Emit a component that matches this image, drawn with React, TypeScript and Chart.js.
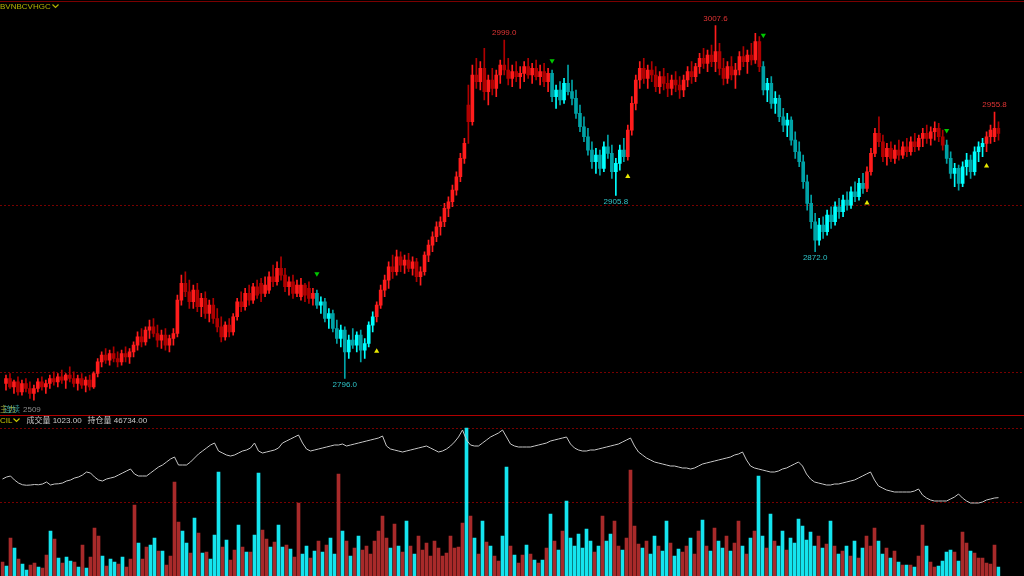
import React, { useEffect, useRef } from "react";
import { Chart, registerables } from "chart.js";
Chart.register(...registerables);

// ---------- DATA ----------
const open = [
  2793, 2796, 2791, 2794, 2788, 2793, 2790, 2787, 2790, 2794,
  2791, 2793, 2796, 2794, 2797, 2795, 2798, 2796, 2793, 2796,
  2792, 2795, 2791, 2799, 2806, 2810, 2807, 2811, 2808, 2806,
  2811, 2809, 2812, 2816, 2821, 2818, 2825, 2827, 2823, 2819,
  2822, 2816, 2820, 2823, 2843, 2853, 2848, 2842, 2849, 2839,
  2844, 2835, 2840, 2832, 2827, 2821, 2828, 2824, 2833, 2842,
  2839, 2847, 2843, 2851, 2853, 2847, 2849, 2857, 2854, 2862,
  2858, 2851, 2854, 2847, 2845, 2852, 2850, 2844, 2847, 2840,
  2842, 2832, 2835, 2826, 2820, 2825, 2812, 2819, 2816, 2822,
  2813, 2817, 2828, 2833, 2840, 2849, 2855, 2863, 2860, 2869,
  2864, 2867, 2862, 2866, 2857, 2860, 2870, 2876, 2881, 2887,
  2890, 2898, 2902, 2909, 2917, 2928, 2960, 2950, 2978, 2974,
  2982, 2968, 2975, 2970, 2978, 2984, 2981, 2976, 2980, 2977,
  2979, 2983, 2978, 2982, 2977, 2980, 2974, 2979, 2965, 2969,
  2963, 2973, 2968, 2964, 2955, 2947, 2941, 2933, 2926, 2930,
  2922, 2935, 2931, 2920, 2925, 2933, 2929, 2945, 2961, 2975,
  2982, 2976, 2981, 2978, 2971, 2977, 2973, 2970, 2975, 2972,
  2969, 2975, 2980, 2977, 2983, 2988, 2985, 2990, 2986, 2992,
  2982, 2976, 2983, 2978, 2981, 2989, 2986, 2990, 2987, 2998,
  2983, 2969, 2973, 2961, 2964, 2953, 2948, 2951, 2939, 2932,
  2926, 2914, 2901, 2890, 2879, 2888, 2884, 2894, 2890, 2899,
  2896, 2903, 2900, 2908, 2905, 2913, 2910, 2920, 2931, 2943,
  2938, 2929, 2934, 2928, 2933, 2930, 2935, 2932, 2938, 2935,
  2940, 2943, 2940, 2944, 2946, 2941, 2936, 2928, 2919, 2922,
  2913, 2923, 2927, 2920, 2932, 2935, 2937, 2941, 2941, 2946,
];
const high = [
  2798, 2799, 2795, 2797, 2795, 2796, 2794, 2792, 2796, 2797,
  2795, 2798, 2800, 2799, 2801, 2799, 2803, 2800, 2798, 2799,
  2797, 2798, 2800, 2808, 2812, 2814, 2813, 2815, 2812, 2813,
  2815, 2814, 2818, 2824, 2826, 2827, 2831, 2832, 2828, 2825,
  2826, 2822, 2826, 2846, 2858, 2860, 2855, 2852, 2853, 2847,
  2848, 2843, 2844, 2838, 2833, 2830, 2832, 2835, 2844, 2848,
  2850, 2852, 2853, 2855, 2856, 2857, 2860, 2864, 2866, 2869,
  2862, 2857, 2858, 2855, 2856, 2853, 2854, 2850, 2849, 2845,
  2844, 2838, 2837, 2831, 2828, 2827, 2822, 2826, 2824, 2825,
  2820, 2830, 2836, 2842, 2852, 2858, 2866, 2870, 2873, 2872,
  2870, 2871, 2869, 2868, 2863, 2872, 2879, 2884, 2890, 2893,
  2901, 2905, 2912, 2920, 2931, 2940, 2972, 2984, 2988, 2986,
  2994, 2978, 2982, 2981, 2987, 2999.0, 2988, 2984, 2986, 2983,
  2986, 2988, 2985, 2987, 2984, 2985, 2982, 2981, 2972, 2974,
  2976, 2984, 2975, 2969, 2960, 2953, 2946, 2938, 2934, 2933,
  2938, 2942, 2936, 2928, 2936, 2940, 2948, 2965, 2978, 2986,
  2988, 2984, 2986, 2983, 2980, 2982, 2979, 2978, 2980, 2977,
  2978, 2983, 2986, 2985, 2991, 2994, 2993, 2996, 3007.6, 2997,
  2988, 2986, 2989, 2985, 2992, 2995, 2993, 2997, 3003, 3001,
  2986, 2976, 2977, 2968, 2966, 2958, 2955, 2953, 2944, 2938,
  2930, 2918, 2906, 2895, 2892, 2893, 2897, 2899, 2902, 2904,
  2906, 2908, 2911, 2914, 2916, 2919, 2923, 2934, 2946, 2953,
  2942, 2937, 2938, 2936, 2939, 2938, 2940, 2941, 2943, 2942,
  2946, 2948, 2947, 2950, 2949, 2945, 2939, 2932, 2925, 2924,
  2926, 2931, 2930, 2935, 2938, 2940, 2944, 2948, 2955.8, 2950,
];
const low = [
  2789, 2790, 2787, 2786, 2786, 2788, 2784, 2783, 2788, 2789,
  2787, 2790, 2792, 2791, 2793, 2790, 2794, 2791, 2789, 2790,
  2788, 2789, 2790, 2797, 2803, 2805, 2804, 2806, 2803, 2804,
  2806, 2805, 2809, 2813, 2815, 2816, 2820, 2821, 2815, 2814,
  2813, 2812, 2816, 2821, 2840, 2845, 2838, 2838, 2836, 2833,
  2832, 2830, 2829, 2824, 2818, 2819, 2821, 2822, 2831, 2836,
  2837, 2840, 2841, 2844, 2842, 2845, 2847, 2851, 2852, 2855,
  2848, 2846, 2844, 2845, 2843, 2842, 2841, 2840, 2838, 2835,
  2830, 2826, 2824, 2817, 2815, 2796.0, 2808, 2814, 2812, 2806,
  2808, 2815, 2824, 2830, 2838, 2845, 2850, 2856, 2858, 2860,
  2859, 2860, 2858, 2854, 2852, 2858, 2866, 2872, 2878, 2882,
  2887, 2893, 2899, 2906, 2914, 2925, 2937, 2948, 2970, 2969,
  2963, 2960, 2966, 2965, 2973, 2978, 2972, 2971, 2974, 2970,
  2974, 2976, 2973, 2975, 2972, 2971, 2968, 2962, 2958, 2960,
  2961, 2966, 2960, 2952, 2944, 2938, 2930, 2922, 2919, 2918,
  2920, 2928, 2916, 2905.8, 2921, 2926, 2927, 2942, 2957, 2970,
  2973, 2970, 2974, 2968, 2967, 2969, 2965, 2966, 2968, 2964,
  2965, 2971, 2973, 2974, 2979, 2982, 2980, 2983, 2980, 2978,
  2972, 2973, 2975, 2970, 2978, 2983, 2979, 2984, 2985, 2980,
  2966, 2962, 2958, 2955, 2950, 2944, 2941, 2936, 2928, 2923,
  2910, 2897, 2886, 2872.0, 2876, 2880, 2882, 2886, 2888, 2892,
  2893, 2897, 2898, 2902, 2903, 2907, 2908, 2918, 2929, 2935,
  2926, 2924, 2926, 2925, 2927, 2928, 2929, 2930, 2932, 2933,
  2935, 2937, 2936, 2939, 2938, 2933, 2925, 2916, 2911, 2909,
  2911, 2918, 2916, 2918, 2926, 2929, 2932, 2937, 2938, 2939,
];
const close = [
  2796, 2791, 2794, 2788, 2793, 2790, 2787, 2790, 2794, 2791,
  2793, 2796, 2794, 2797, 2795, 2798, 2796, 2793, 2796, 2792,
  2795, 2791, 2799, 2806, 2810, 2807, 2811, 2808, 2806, 2811,
  2809, 2812, 2816, 2821, 2818, 2825, 2827, 2823, 2819, 2822,
  2816, 2820, 2823, 2843, 2853, 2848, 2842, 2849, 2839, 2844,
  2835, 2840, 2832, 2827, 2821, 2828, 2824, 2833, 2842, 2839,
  2847, 2843, 2851, 2846, 2847, 2852, 2857, 2854, 2862, 2858,
  2851, 2854, 2847, 2852, 2852, 2846, 2844, 2847, 2840, 2842,
  2832, 2835, 2826, 2820, 2825, 2812, 2819, 2816, 2822, 2813,
  2817, 2828, 2833, 2840, 2849, 2855, 2863, 2860, 2869, 2864,
  2867, 2862, 2866, 2857, 2860, 2870, 2876, 2881, 2887, 2890,
  2898, 2902, 2909, 2917, 2928, 2937, 2950, 2978, 2974, 2982,
  2968, 2975, 2970, 2978, 2984, 2981, 2976, 2980, 2977, 2979,
  2983, 2978, 2982, 2977, 2980, 2974, 2979, 2965, 2969, 2963,
  2973, 2968, 2964, 2955, 2947, 2941, 2933, 2926, 2930, 2922,
  2935, 2931, 2920, 2925, 2933, 2929, 2945, 2961, 2975, 2982,
  2976, 2981, 2978, 2971, 2977, 2973, 2970, 2975, 2972, 2969,
  2975, 2980, 2977, 2983, 2988, 2985, 2990, 2986, 2992, 2982,
  2976, 2983, 2978, 2981, 2989, 2986, 2990, 2987, 2998, 2983,
  2969, 2973, 2961, 2964, 2953, 2948, 2951, 2939, 2932, 2926,
  2914, 2901, 2890, 2879, 2888, 2884, 2894, 2890, 2899, 2896,
  2903, 2900, 2908, 2905, 2913, 2910, 2920, 2931, 2943, 2938,
  2929, 2934, 2928, 2933, 2930, 2935, 2932, 2938, 2935, 2940,
  2943, 2940, 2944, 2946, 2941, 2936, 2928, 2919, 2922, 2913,
  2923, 2927, 2920, 2932, 2935, 2937, 2941, 2945, 2946, 2943,
];
const volume = [
  1580, 1130, 4300, 3160, 1920, 1360, 680, 1240, 1470, 1020,
  900, 2370, 5090, 4180, 2030, 1470, 2150, 1700, 1580, 1020,
  3500, 900, 2150, 5420, 4520, 2260, 1130, 1920, 1580, 1360,
  2150, 1020, 1920, 8040, 3730, 1920, 3280, 3500, 4300, 2830,
  2830, 1240, 2260, 10650, 6120, 5100, 3740, 2600, 6570, 4870,
  2600, 2720, 1920, 4640, 11780, 3280, 4080, 1810, 2940, 5780,
  3280, 2720, 2720, 4640, 11670, 5210, 4190, 3280, 3850, 5780,
  3280, 3500, 3060, 2150, 8270, 2490, 3400, 2040, 2830, 3970,
  2720, 3510, 4300, 2490, 11560, 5100, 3970, 2270, 3170, 4530,
  2940, 3400, 2490, 3970, 5100, 6800, 4300, 3170, 5890, 3400,
  2720, 6230, 3400, 2490, 4530, 2940, 3740, 2270, 3970, 3170,
  2270, 2610, 4530, 3170, 3290, 6000, 16770, 6800, 4300, 2490,
  6230, 3850, 3400, 2270, 1700, 4530, 12350, 3400, 2380, 1470,
  2380, 3510, 2490, 1810, 1470, 1810, 3170, 7030, 3970, 2940,
  5100, 8500, 4300, 3400, 4760, 3170, 5330, 3970, 2720, 3400,
  6800, 3970, 4760, 6230, 3400, 2940, 4300, 12000, 5670, 3630,
  3170, 3970, 2490, 4530, 3400, 2830, 6230, 3740, 2270, 3060,
  2720, 3400, 4300, 2490, 5100, 6350, 3400, 2830, 5440, 3970,
  3170, 4530, 2830, 3740, 6230, 3400, 2490, 4300, 5100, 11330,
  4530, 3170, 7030, 3970, 3400, 5100, 2940, 4300, 3740, 6460,
  5670, 4080, 4990, 3400, 4530, 3170, 3630, 6230, 3400, 2490,
  2830, 3400, 2270, 3970, 2040, 3170, 4530, 3400, 5440, 3970,
  2490, 3170, 2040, 2830, 1590, 1250, 1250, 1250, 1020, 2270,
  5780, 3400, 1590, 1020, 1130, 1700, 2720, 2940, 2720, 1700,
  4990, 3740, 2830, 2610, 2040, 2040, 1470, 1360, 3510, 1023,
];
const openInterest = [
  47480, 47560, 47600, 47440, 47320, 47250, 47230, 47240, 47260, 47250,
  47280, 47360, 47240, 47280, 47290, 47320, 47400, 47440, 47520, 47560,
  47640, 47760, 47720, 47560, 47440, 47400, 47480, 47520, 47560, 47640,
  47720, 47800, 47880, 47680, 47600, 47600, 47600, 47720, 47840, 47960,
  48040, 48160, 48280, 48360, 48040, 48040, 48040, 48160, 48320, 48480,
  48600, 48720, 48840, 48920, 48600, 48520, 48440, 48400, 48440, 48520,
  48600, 48640, 48720, 48920, 48600, 48520, 48560, 48600, 48640, 48720,
  48920, 49000, 49080, 49160, 49240, 48920, 48680, 48600, 48640, 48680,
  48720, 48760, 48800, 48840, 48840, 48880, 48800, 48840, 48880, 48920,
  48960, 49000, 49040, 49080, 49120, 49200, 48800, 48680, 48640, 48600,
  48560, 48600, 48640, 48680, 48720, 48760, 48800, 48720, 48640, 48560,
  48600, 48680, 48800, 48960, 49160, 49440, 49040, 48840, 48800, 48800,
  48920, 49040, 49160, 49240, 49320, 49440, 49160, 48880, 48800, 48760,
  48760, 48760, 48760, 48800, 48840, 48880, 48920, 49000, 49040, 49080,
  49120, 49160, 48880, 48720, 48640, 48600, 48600, 48640, 48640, 48680,
  48720, 48760, 48800, 48840, 48880, 48960, 49040, 49120, 48800, 48560,
  48440, 48320, 48240, 48160, 48120, 48080, 48040, 48000, 48000, 47960,
  47920, 47920, 47880, 47920, 48000, 48080, 48120, 48160, 48200, 48240,
  48280, 48320, 48360, 48440, 48480, 48560, 48240, 48000, 47920, 47880,
  47840, 47800, 47760, 47760, 47800, 47880, 47920, 48000, 48080, 48160,
  48000, 47680, 47480, 47360, 47320, 47280, 47240, 47240, 47280, 47280,
  47320, 47360, 47400, 47440, 47520, 47600, 47680, 47760, 47440, 47200,
  47120, 47040, 47000, 46960, 46960, 46960, 46960, 46960, 47000, 47080,
  46840, 46720, 46640, 46600, 46600, 46600, 46600, 46680, 46760, 46880,
  46720, 46600, 46520, 46520, 46520, 46560, 46640, 46680, 46720, 46734,
];

// trading signals (bar index) and marker price
const sellSignalIdx = [78, 137, 190, 236];
const sellMarkPrice = [2858.8, 2986.5, 3001.8, 2944.7];
const buySignalIdx = [93, 156, 216, 246];
const buyMarkPrice = [2812.4, 2917.1, 2901.2, 2923.5];

// labelled swing highs / lows (bar index)
const peakIdx = [125, 178, 248];
const troughIdx = [85, 153, 203];

// dotted guide levels
const priceGuides = [2800, 2900];
const volumeGuides = [8400, 16800];

const PRICE_MIN = 2775.9;
const PRICE_MAX = 3020.6;
const VOL_MAX = 17000;
const OI_MIN = 43600;
const OI_MAX = 49600;

const symbolName = "BVNBCVHGC";
const indicatorName = "CIL";
const volText = "成交量 " + volume[volume.length - 1].toFixed(2);
const oiText = "持仓量 " + openInterest[openInterest.length - 1].toFixed(2);

// ---------- derived ----------
const labels = close.map((_, i) => String(i));
const trendUp: boolean[] = [];
{
  let up = true;
  for (let i = 0; i < close.length; i++) {
    if (sellSignalIdx.includes(i)) up = false;
    if (buySignalIdx.includes(i)) up = true;
    trendUp.push(up);
  }
}
const candleColors = close.map((c, i) => {
  const bull = c >= open[i];
  if (trendUp[i]) return bull ? "#ff1c1c" : "#b00000";
  return bull ? "#00ffff" : "#00a2a6";
});
const volColors = close.map((c, i) => (c >= open[i] ? "#a82a2a" : "#14e4ee"));

const sellMarks = labels.map((_, i) => {
  const k = sellSignalIdx.indexOf(i);
  return k >= 0 ? sellMarkPrice[k] : null;
});
const buyMarks = labels.map((_, i) => {
  const k = buySignalIdx.indexOf(i);
  return k >= 0 ? buyMarkPrice[k] : null;
});

const guidePlugin = (scaleId: string, values: number[]) => ({
  id: "guides_" + scaleId,
  beforeDatasetsDraw(chart: any) {
    const { ctx } = chart;
    const sc = chart.scales[scaleId];
    ctx.save();
    ctx.strokeStyle = "#780000";
    ctx.lineWidth = 1;
    ctx.setLineDash([2, 2]);
    values.forEach((v) => {
      const py = Math.round(sc.getPixelForValue(v)) + 0.5;
      ctx.beginPath();
      ctx.moveTo(0, py);
      ctx.lineTo(chart.width, py);
      ctx.stroke();
    });
    ctx.restore();
  },
});

const extremeLabelPlugin = {
  id: "extremeLabels",
  afterDatasetsDraw(chart: any) {
    const { ctx } = chart;
    const xs = chart.scales.x;
    const ys = chart.scales.y;
    ctx.save();
    ctx.font = '8px "Liberation Sans", Arial, sans-serif';
    ctx.textAlign = "center";
    ctx.textBaseline = "bottom";
    ctx.fillStyle = "#e03434";
    peakIdx.forEach((i) => {
      ctx.fillText(high[i].toFixed(1), xs.getPixelForValue(i), ys.getPixelForValue(high[i]) - 3);
    });
    ctx.textBaseline = "top";
    ctx.fillStyle = "#2ec4c8";
    troughIdx.forEach((i) => {
      ctx.fillText(low[i].toFixed(1), xs.getPixelForValue(i), ys.getPixelForValue(low[i]) + 2);
    });
    ctx.restore();
  },
};

const Chevron = ({ color }: { color: string }) => (
  <svg width="7" height="5" style={{ marginLeft: 1, verticalAlign: "middle" }}>
    <polyline points="0.5,0.5 3.5,3.5 6.5,0.5" fill="none" stroke={color} strokeWidth="1.2" />
  </svg>
);

export default function App() {
  const mainRef = useRef<HTMLCanvasElement>(null);
  const volRef = useRef<HTMLCanvasElement>(null);

  useEffect(() => {
    const main = new Chart(mainRef.current as HTMLCanvasElement, {
      type: "bar",
      data: {
        labels,
        datasets: [
          {
            type: "bar",
            data: close.map((_, i) => [low[i], high[i]]) as any,
            backgroundColor: candleColors,
            barThickness: 1,
            grouped: false,
            borderWidth: 0,
            order: 3,
          } as any,
          {
            type: "bar",
            data: close.map((c, i) => [open[i], c]) as any,
            backgroundColor: candleColors,
            barThickness: 3,
            minBarLength: 1,
            grouped: false,
            borderWidth: 0,
            order: 2,
          } as any,
          {
            type: "line",
            data: sellMarks as any,
            showLine: false,
            pointStyle: "triangle",
            rotation: 180,
            pointRadius: 3,
            pointBackgroundColor: "#00c800",
            pointBorderWidth: 0,
            order: 1,
          } as any,
          {
            type: "line",
            data: buyMarks as any,
            showLine: false,
            pointStyle: "triangle",
            pointRadius: 3,
            pointBackgroundColor: "#e8e800",
            pointBorderWidth: 0,
            order: 1,
          } as any,
        ],
      },
      options: {
        responsive: false,
        animation: false,
        devicePixelRatio: 1,
        events: [],
        layout: { padding: { left: 0.5, right: 23.5, top: 0, bottom: 0 } },
        plugins: { legend: { display: false }, tooltip: { enabled: false } },
        scales: {
          x: { display: false, offset: true },
          y: { display: false, min: PRICE_MIN, max: PRICE_MAX },
        },
      } as any,
      plugins: [guidePlugin("y", priceGuides), extremeLabelPlugin],
    });

    const vol = new Chart(volRef.current as HTMLCanvasElement, {
      type: "bar",
      data: {
        labels,
        datasets: [
          {
            type: "line",
            data: openInterest,
            yAxisID: "y2",
            borderColor: "#c4c4c4",
            borderWidth: 1,
            pointRadius: 0,
            tension: 0,
            order: 1,
          } as any,
          {
            type: "bar",
            data: volume,
            yAxisID: "y",
            backgroundColor: volColors,
            barThickness: 3,
            borderWidth: 0,
            order: 2,
          } as any,
        ],
      },
      options: {
        responsive: false,
        animation: false,
        devicePixelRatio: 1,
        events: [],
        layout: { padding: { left: 0.5, right: 23.5, top: 10, bottom: 0 } },
        plugins: { legend: { display: false }, tooltip: { enabled: false } },
        scales: {
          x: { display: false, offset: true },
          y: { display: false, min: 0, max: VOL_MAX },
          y2: { display: false, min: OI_MIN, max: OI_MAX },
        },
      } as any,
      plugins: [guidePlugin("y", volumeGuides)],
    });

    return () => {
      main.destroy();
      vol.destroy();
    };
  }, []);

  const font = '"Liberation Sans", "Noto Sans CJK SC", Arial, sans-serif';
  return (
    <div
      style={{
        position: "fixed",
        left: 0,
        top: 0,
        width: 1024,
        height: 576,
        background: "#000",
        overflow: "hidden",
        fontFamily: font,
      }}
    >
      <canvas ref={mainRef} width={1024} height={416} style={{ position: "absolute", left: 0, top: 0 }} />
      <canvas ref={volRef} width={1024} height={160} style={{ position: "absolute", left: 0, top: 416 }} />
      <div style={{ position: "absolute", left: 0, top: 1, width: 1024, height: 1, background: "#7a0000" }} />
      <div style={{ position: "absolute", left: 0, top: 415, width: 1024, height: 1, background: "#b00000" }} />
      <div
        style={{
          position: "absolute",
          left: 0,
          top: 2,
          height: 10,
          lineHeight: "10px",
          fontSize: 8,
          color: "#b4b400",
          whiteSpace: "nowrap",
        }}
      >
        {symbolName}
        <Chevron color="#b4b400" />
      </div>
      <div style={{ position: "absolute", left: 0, top: 405, height: 10, lineHeight: "10px", fontSize: 8, whiteSpace: "nowrap" }}>
        <span style={{ position: "absolute", left: 0, color: "#a8b040" }}>主力</span>
        <span style={{ position: "absolute", left: 4, color: "#3cb0b0", opacity: 0.85 }}>连续</span>
        <span style={{ position: "absolute", left: 23, color: "#8a8a8a" }}>2509</span>
      </div>
      <div
        style={{
          position: "absolute",
          left: 0,
          top: 416,
          height: 10,
          lineHeight: "10px",
          fontSize: 8,
          whiteSpace: "nowrap",
        }}
      >
        <span style={{ color: "#c8c800" }}>{indicatorName}</span>
        <Chevron color="#c8c800" />
        <span style={{ color: "#c8c8c8", marginLeft: 6 }}>{volText}</span>
        <span style={{ color: "#c8c8c8", marginLeft: 6 }}>{oiText}</span>
      </div>
    </div>
  );
}
